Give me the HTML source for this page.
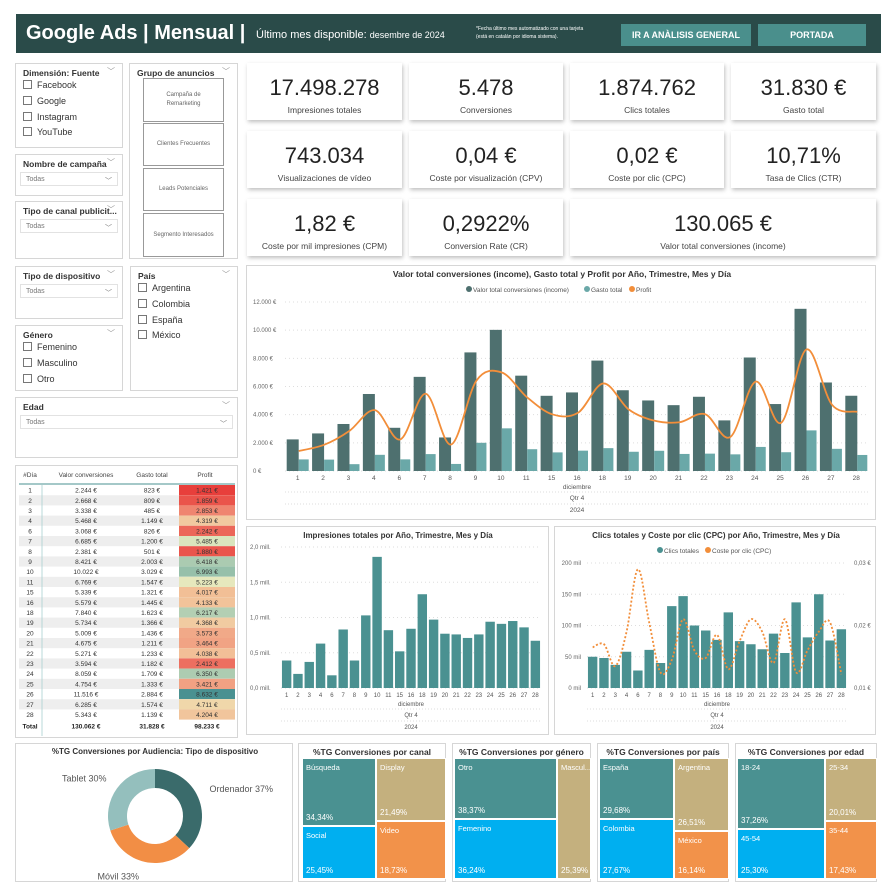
<!DOCTYPE html>
<html><head><meta charset="utf-8">
<style>
*{box-sizing:border-box;margin:0;padding:0}
body{width:891px;height:892px;background:#fff;font-family:"Liberation Sans",sans-serif;position:relative;overflow:hidden;color:#333}
.abs{position:absolute}
.box{position:absolute;border:1px solid #d6d6d6;background:#fff}
.card{position:absolute;background:#fff;box-shadow:1px 2px 4px rgba(0,0,0,.25);text-align:center}
.card .v{font-size:22px;color:#222;margin-top:12px;letter-spacing:0}
.card .l{font-size:8.5px;color:#444;margin-top:4px}
.st{font-size:8.5px;font-weight:bold;color:#333;position:absolute;left:7px;top:4px}
.chev{position:absolute;right:7px;top:2px;font-size:8px;color:#999}
.dd{position:absolute;border:1px solid #e2e2e2;font-size:7px;color:#777;padding:3px 5px;height:14px}
.cb{position:absolute;font-size:9px;color:#333;left:7px}
.cb i{display:inline-block;width:9px;height:9px;border:1px solid #777;vertical-align:-1px;margin-right:5px}
.gb{position:absolute;left:13px;width:81px;border:1px solid #999;font-size:6px;color:#666;text-align:center;display:flex;align-items:center;justify-content:center;line-height:9px}
.tm{position:absolute;color:#fff;font-size:7.5px;border:1px solid #fff}
.tm span{position:absolute;left:3px;top:4px;white-space:nowrap}
.tm b{position:absolute;left:3px;bottom:3px;font-weight:normal;font-size:8px}
.tt{position:absolute;top:3px;width:100%;text-align:center;font-size:8.5px;font-weight:bold;white-space:nowrap}
</style></head><body>
<div class="abs" style="left:16px;top:14px;width:865px;height:39px;background:#2a4b49">
  <div class="abs" style="left:10px;top:8px;font-size:20px;font-weight:bold;color:#fff;white-space:nowrap">Google Ads | Mensual |</div>
  <div class="abs" style="left:240px;top:15px;font-size:11px;color:#fff;white-space:nowrap">Último mes disponible: <span style="font-size:9px">desembre de 2024</span></div>
  <div class="abs" style="left:460px;top:11px;font-size:5px;color:#fff;line-height:8px">*Fecha último mes automatizado con una tarjeta<br>(está en catalán por idioma sistema).</div>
  <div class="abs" style="left:605px;top:10px;width:130px;height:22px;background:#4a8f8c;color:#fff;font-size:9px;font-weight:bold;text-align:center;line-height:22px;white-space:nowrap">IR A ANÀLISIS GENERAL</div>
  <div class="abs" style="left:742px;top:10px;width:108px;height:22px;background:#4a8f8c;color:#fff;font-size:9px;font-weight:bold;text-align:center;line-height:22px">PORTADA</div>
</div>

<div class="box" style="left:15px;top:63px;width:108px;height:85px"><div class="st">Dimensión: Fuente</div><div class="chev">﹀</div>
<div class="cb" style="top:16px"><i></i>Facebook</div><div class="cb" style="top:32px"><i></i>Google</div><div class="cb" style="top:48px"><i></i>Instagram</div><div class="cb" style="top:63px"><i></i>YouTube</div></div>
<div class="box" style="left:15px;top:154px;width:108px;height:42px"><div class="st">Nombre de campaña</div><div class="chev">﹀</div><div class="dd" style="left:4px;top:17px;width:98px">Todas<span style="float:right">﹀</span></div></div>
<div class="box" style="left:15px;top:201px;width:108px;height:58px"><div class="st">Tipo de canal publicit...</div><div class="chev">﹀</div><div class="dd" style="left:4px;top:17px;width:98px">Todas<span style="float:right">﹀</span></div></div>
<div class="box" style="left:129px;top:63px;width:109px;height:196px"><div class="st">Grupo de anuncios</div><div class="chev">﹀</div>
<div class="gb" style="top:14px;height:44px">Campaña de<br>Remarketing</div><div class="gb" style="top:59px;height:43px">Clientes Frecuentes</div><div class="gb" style="top:104px;height:43px">Leads Potenciales</div><div class="gb" style="top:149px;height:44px">Segmento Interesados</div></div>
<div class="box" style="left:15px;top:266px;width:108px;height:53px"><div class="st">Tipo de dispositivo</div><div class="chev">﹀</div><div class="dd" style="left:4px;top:17px;width:98px">Todas<span style="float:right">﹀</span></div></div>
<div class="box" style="left:130px;top:266px;width:108px;height:125px"><div class="st">País</div><div class="chev">﹀</div>
<div class="cb" style="top:16px"><i></i>Argentina</div><div class="cb" style="top:32px"><i></i>Colombia</div><div class="cb" style="top:48px"><i></i>España</div><div class="cb" style="top:63px"><i></i>México</div></div>
<div class="box" style="left:15px;top:325px;width:108px;height:66px"><div class="st">Género</div><div class="chev">﹀</div>
<div class="cb" style="top:16px"><i></i>Femenino</div><div class="cb" style="top:32px"><i></i>Masculino</div><div class="cb" style="top:48px"><i></i>Otro</div></div>
<div class="box" style="left:15px;top:397px;width:223px;height:61px"><div class="st">Edad</div><div class="chev">﹀</div><div class="dd" style="left:4px;top:17px;width:213px">Todas<span style="float:right">﹀</span></div></div>

<div class="card" style="left:247px;top:63px;width:155px;height:57px"><div class="v">17.498.278</div><div class="l">Impresiones totales</div></div>
<div class="card" style="left:409px;top:63px;width:154px;height:57px"><div class="v">5.478</div><div class="l">Conversiones</div></div>
<div class="card" style="left:570px;top:63px;width:154px;height:57px"><div class="v">1.874.762</div><div class="l">Clics totales</div></div>
<div class="card" style="left:731px;top:63px;width:145px;height:57px"><div class="v">31.830 €</div><div class="l">Gasto total</div></div>
<div class="card" style="left:247px;top:131px;width:155px;height:57px"><div class="v">743.034</div><div class="l">Visualizaciones de vídeo</div></div>
<div class="card" style="left:409px;top:131px;width:154px;height:57px"><div class="v">0,04 €</div><div class="l">Coste por visualización (CPV)</div></div>
<div class="card" style="left:570px;top:131px;width:154px;height:57px"><div class="v">0,02 €</div><div class="l">Coste por clic (CPC)</div></div>
<div class="card" style="left:731px;top:131px;width:145px;height:57px"><div class="v">10,71%</div><div class="l">Tasa de Clics (CTR)</div></div>
<div class="card" style="left:247px;top:199px;width:155px;height:57px"><div class="v">1,82 €</div><div class="l">Coste por mil impresiones (CPM)</div></div>
<div class="card" style="left:409px;top:199px;width:154px;height:57px"><div class="v">0,2922%</div><div class="l">Conversion Rate (CR)</div></div>
<div class="card" style="left:570px;top:199px;width:306px;height:57px"><div class="v">130.065 €</div><div class="l">Valor total conversiones (income)</div></div>

<div class="box" style="left:15px;top:465px;width:223px;height:273px"><svg id="tbl" width="223" height="273" style="position:absolute;left:0;top:0"></svg></div>

<div class="box" style="left:246px;top:265px;width:630px;height:255px"><svg id="main" width="630" height="255"></svg></div>
<div class="box" style="left:246px;top:526px;width:303px;height:209px"><svg id="imp" width="303" height="209"></svg></div>
<div class="box" style="left:554px;top:526px;width:322px;height:209px"><svg id="clk" width="322" height="209"></svg></div>

<div class="box" style="left:15px;top:743px;width:278px;height:139px"><svg id="donut" width="278" height="139"></svg></div>

<div class="box" style="left:298px;top:743px;width:148px;height:139px"><div class="tt">%TG Conversiones por canal</div>
<div class="tm" style="left:3px;top:14px;width:74px;height:68px;background:#4a9191"><span>Búsqueda</span><b>34,34%</b></div>
<div class="tm" style="left:77px;top:14px;width:70px;height:63px;background:#c4b07e"><span>Display</span><b>21,49%</b></div>
<div class="tm" style="left:3px;top:82px;width:74px;height:53px;background:#00aff0"><span>Social</span><b>25,45%</b></div>
<div class="tm" style="left:77px;top:77px;width:70px;height:58px;background:#f2924a"><span>Video</span><b>18,73%</b></div></div>
<div class="box" style="left:452px;top:743px;width:139px;height:139px"><div class="tt">%TG Conversiones por género</div>
<div class="tm" style="left:1px;top:14px;width:103px;height:61px;background:#4a9191"><span>Otro</span><b>38,37%</b></div>
<div class="tm" style="left:1px;top:75px;width:103px;height:60px;background:#00aff0"><span>Femenino</span><b>36,24%</b></div>
<div class="tm" style="left:104px;top:14px;width:34px;height:121px;background:#c4b07e;overflow:hidden"><span>Mascul...</span><b>25,39%</b></div></div>
<div class="box" style="left:597px;top:743px;width:132px;height:139px"><div class="tt">%TG Conversiones por país</div>
<div class="tm" style="left:1px;top:14px;width:75px;height:61px;background:#4a9191"><span>España</span><b>29,68%</b></div>
<div class="tm" style="left:76px;top:14px;width:55px;height:73px;background:#c4b07e"><span>Argentina</span><b>26,51%</b></div>
<div class="tm" style="left:1px;top:75px;width:75px;height:60px;background:#00aff0"><span>Colombia</span><b>27,67%</b></div>
<div class="tm" style="left:76px;top:87px;width:55px;height:48px;background:#f2924a"><span>México</span><b>16,14%</b></div></div>
<div class="box" style="left:735px;top:743px;width:142px;height:139px"><div class="tt">%TG Conversiones por edad</div>
<div class="tm" style="left:1px;top:14px;width:88px;height:71px;background:#4a9191"><span>18-24</span><b>37,26%</b></div>
<div class="tm" style="left:89px;top:14px;width:52px;height:63px;background:#c4b07e"><span>25-34</span><b>20,01%</b></div>
<div class="tm" style="left:1px;top:85px;width:88px;height:50px;background:#00aff0"><span>45-54</span><b>25,30%</b></div>
<div class="tm" style="left:89px;top:77px;width:52px;height:58px;background:#f2924a"><span>35-44</span><b>17,43%</b></div></div>

<script>
const days=[1,2,3,4,6,7,8,9,10,11,15,16,18,19,20,21,22,23,24,25,26,27,28];
const income=[2244,2668,3338,5468,3068,6685,2381,8421,10022,6769,5339,5579,7840,5734,5009,4675,5271,3594,8059,4754,11516,6285,5343];
const spend=[823,809,485,1149,826,1200,501,2003,3029,1547,1321,1445,1623,1366,1436,1211,1233,1182,1709,1333,2884,1574,1139];
const profit=[1421,1859,2853,4319,2242,5485,1880,6418,6993,5223,4017,4133,6217,4368,3573,3464,4038,2412,6350,3421,8632,4711,4204];
const impressions=[0.39,0.20,0.37,0.63,0.18,0.83,0.39,1.03,1.86,0.82,0.52,0.84,1.33,0.97,0.77,0.76,0.71,0.76,0.94,0.91,0.95,0.86,0.67];
const clicks=[50,48,37,58,28,61,40,131,147,100,92,77,121,75,70,62,87,56,137,81,150,76,94];
const cpc=[0.0165,0.0170,0.0135,0.0190,0.0290,0.0205,0.0125,0.0145,0.0210,0.0160,0.0148,0.0185,0.0130,0.0175,0.0210,0.0190,0.0140,0.0210,0.0125,0.0160,0.0190,0.0205,0.0122];
const mainTicks=["0 €","2.000 €","4.000 €","6.000 €","8.000 €","10.000 €","12.000 €"];
const impTicks=["0,0 mill.","0,5 mill.","1,0 mill.","1,5 mill.","2,0 mill."];
const clkTicks=["0 mil","50 mil","100 mil","150 mil","200 mil"];
const cpcTicks=["0,01 €","0,02 €","0,03 €"];
const devices=["Ordenador","Móvil","Tablet"];
const deviceShare=[37,33,30];

const NS="http://www.w3.org/2000/svg";
function mk(p,t,a,txt){const e=document.createElementNS(NS,t);for(const k in a)e.setAttribute(k,a[k]);if(txt!==undefined)e.textContent=txt;p.appendChild(e);return e;}
const fmt=n=>n.toLocaleString('de-DE')+' €';
function smooth(pts){let d='M'+pts[0][0]+','+pts[0][1];for(let i=0;i<pts.length-1;i++){const p0=pts[i-1]||pts[i],p1=pts[i],p2=pts[i+1],p3=pts[i+2]||p2;d+=' C'+(p1[0]+(p2[0]-p0[0])/6)+','+(p1[1]+(p2[1]-p0[1])/6)+' '+(p2[0]-(p3[0]-p1[0])/6)+','+(p2[1]-(p3[1]-p1[1])/6)+' '+p2[0]+','+p2[1];}return d;}
function xAxisLabels(s,xf,y0,x1,x2,fs){days.forEach((d,i)=>{const t=mk(s,'text',{x:xf(i),y:y0+9,'font-size':fs,'text-anchor':'middle',fill:'#555'},d);});
const cx=(x1+x2)/2;mk(s,'text',{x:cx,y:y0+18,'font-size':fs,'text-anchor':'middle',fill:'#555'},'diciembre');mk(s,'line',{x1:x1,x2:x2,y1:y0+21,y2:y0+21,stroke:'#ddd','stroke-dasharray':'1,2'});
mk(s,'text',{x:cx,y:y0+29,'font-size':fs,'text-anchor':'middle',fill:'#555'},'Qtr 4');mk(s,'line',{x1:x1,x2:x2,y1:y0+33,y2:y0+33,stroke:'#ddd','stroke-dasharray':'1,2'});
mk(s,'text',{x:cx,y:y0+41,'font-size':fs,'text-anchor':'middle',fill:'#555'},'2024');}

(function(){const s=document.getElementById('main');
mk(s,'text',{x:315,y:11,'font-size':8.5,'font-weight':'bold','text-anchor':'middle',fill:'#333'},'Valor total conversiones (income), Gasto total y Profit por Año, Trimestre, Mes y Día');
const lg=[["#4e706f","Valor total conversiones (income)",222],["#6aa8a8","Gasto total",340],["#f28e3a","Profit",385]];
lg.forEach(l=>{mk(s,'circle',{cx:l[2],cy:23,r:3,fill:l[0]});mk(s,'text',{x:l[2]+4,y:26,'font-size':6.5,fill:'#555'},l[1]);});
const y0=205,yT=36,maxV=12000,y=v=>y0-(v/maxV)*(y0-yT);
const x1=38,x2=622,bw=(x2-x1)/days.length,xc=i=>x1+bw*(i+0.5);
mainTicks.forEach((t,i)=>{const yy=y(i*2000);mk(s,'line',{x1:x1,x2:x2,y1:yy,y2:yy,stroke:'#ddd','stroke-dasharray':'1,3'});mk(s,'text',{x:6,y:yy+2,'font-size':6,fill:'#666'},t);});
days.forEach((d,i)=>{const a=mk(s,'rect',{x:xc(i)-11,y:y(income[i]),width:12,height:y0-y(income[i]),fill:'#4e706f'});
const b=mk(s,'rect',{x:xc(i)+1,y:y(spend[i]),width:10,height:y0-y(spend[i]),fill:'#6aa8a8'});});
const ln=mk(s,'path',{d:smooth(profit.map((v,i)=>[xc(i)+1,y(v)])),fill:'none',stroke:'#f28e3a','stroke-width':1.8});
xAxisLabels(s,xc,y0,x1,x2,6.5);})();

(function(){const s=document.getElementById('imp');
mk(s,'text',{x:151,y:11,'font-size':8,'font-weight':'bold','text-anchor':'middle',fill:'#333'},'Impresiones totales por Año, Trimestre, Mes y Día');
const y0=161,yT=20,y=v=>y0-(v/2)*(y0-yT),x1=34,x2=294,bw=(x2-x1)/days.length,xc=i=>x1+bw*(i+0.5);
impTicks.forEach((t,i)=>{const yy=y(i*0.5);mk(s,'line',{x1:x1,x2:x2,y1:yy,y2:yy,stroke:'#ddd','stroke-dasharray':'1,3'});mk(s,'text',{x:3,y:yy+2,'font-size':6,fill:'#666'},t);});
days.forEach((d,i)=>{const r=mk(s,'rect',{x:xc(i)-4.7,y:y(impressions[i]),width:9.4,height:y0-y(impressions[i]),fill:'#4a9191'});});
xAxisLabels(s,xc,y0,x1,x2,6);})();

(function(){const s=document.getElementById('clk');
mk(s,'text',{x:161,y:11,'font-size':8,'font-weight':'bold','text-anchor':'middle',fill:'#333'},'Clics totales y Coste por clic (CPC) por Año, Trimestre, Mes y Día');
mk(s,'circle',{cx:105,cy:23,r:3,fill:'#4a9191'});mk(s,'text',{x:109,y:26,'font-size':6.5,fill:'#555'},'Clics totales');
mk(s,'circle',{cx:153,cy:23,r:3,fill:'#f28e3a'});mk(s,'text',{x:157,y:26,'font-size':6.5,fill:'#555'},'Coste por clic (CPC)');
const y0=161,yT=36,y=v=>y0-(v/200)*(y0-yT),y2=v=>y0-((v-0.01)/0.02)*(y0-yT),x1=32,x2=292,bw=(x2-x1)/days.length,xc=i=>x1+bw*(i+0.5);
clkTicks.forEach((t,i)=>{const yy=y(i*50);mk(s,'line',{x1:x1,x2:x2,y1:yy,y2:yy,stroke:'#ddd','stroke-dasharray':'1,3'});mk(s,'text',{x:26,y:yy+2,'font-size':6,fill:'#666','text-anchor':'end'},t);});
cpcTicks.forEach((t,i)=>{mk(s,'text',{x:299,y:y2(0.01+i*0.01)+2,'font-size':6,fill:'#666'},t);});
days.forEach((d,i)=>{const r=mk(s,'rect',{x:xc(i)-4.7,y:y(clicks[i]),width:9.4,height:y0-y(clicks[i]),fill:'#4a9191'});});
const ln=mk(s,'path',{d:smooth(cpc.map((v,i)=>[xc(i),y2(v)])),fill:'none',stroke:'#f28e3a','stroke-width':1.8,'stroke-dasharray':'2,2'});
xAxisLabels(s,xc,y0,x1,x2,6);})();

(function(){const s=document.getElementById('donut');
mk(s,'text',{x:139,y:10,'font-size':8,'font-weight':'bold','text-anchor':'middle',fill:'#333'},'%TG Conversiones por Audiencia: Tipo de dispositivo');
const cx=139,cy=72,R=47,r=28,cols=['#3a6b6b','#f28e45','#94bfbd'];let a0=-Math.PI/2;const tot=deviceShare.reduce((a,b)=>a+b,0);
deviceShare.forEach((v,i)=>{const a1=a0+v/tot*2*Math.PI,lg=(a1-a0)>Math.PI?1:0;
const P=(rr,a)=>[cx+rr*Math.cos(a),cy+rr*Math.sin(a)];const [ax,ay]=P(R,a0),[bx,by]=P(R,a1),[cx2,cy2]=P(r,a1),[dx,dy]=P(r,a0);
const p=mk(s,'path',{d:`M${ax},${ay} A${R},${R} 0 ${lg} 1 ${bx},${by} L${cx2},${cy2} A${r},${r} 0 ${lg} 0 ${dx},${dy}Z`,fill:cols[i]});
const am=(a0+a1)/2,[lx,ly]=P(R+8,am);const right=Math.cos(am)>0;
mk(s,'text',{x:lx+(right?4:-4),y:ly+(Math.sin(am)>0.5?10:-2),'font-size':9,fill:'#555','text-anchor':right?'start':'end'},devices[i]+' '+v+'%');a0=a1;});})();

(function(){const s=document.getElementById('tbl');
const hx=[[14,'#Día'],[70,'Valor conversiones'],[136,'Gasto total'],[189,'Profit']];
hx.forEach(h=>mk(s,'text',{x:h[0],y:11,'font-size':6.5,fill:'#444','text-anchor':'middle'},h[1]));
mk(s,'line',{x1:3,x2:219,y1:18,y2:18,stroke:'#4a9191','stroke-width':1});
const stops=[[1400,[232,62,58]],[2800,[239,130,110]],[4000,[242,190,150]],[4700,[240,215,170]],[5300,[228,234,192]],[6300,[175,205,178]],[7000,[150,192,170]],[8632,[74,145,145]]];
function col(v){for(let i=0;i<stops.length-1;i++){const a=stops[i],b=stops[i+1];if(v<=b[0]){const t=Math.max(0,(v-a[0])/(b[0]-a[0]));return 'rgb('+a[1].map((c,k)=>Math.round(c+(b[1][k]-c)*t)).join(',')+')';}}return 'rgb(74,145,145)';}
const rh=10.2,y0=19;
days.forEach((d,i)=>{const yy=y0+i*rh;if(i%2==1)mk(s,'rect',{x:3,y:yy,width:216,height:rh,fill:'#eeeeee'});
const c=mk(s,'rect',{x:163,y:yy,width:56,height:rh,fill:col(profit[i])});
mk(s,'text',{x:14,y:yy+7.6,'font-size':6.5,fill:'#333','text-anchor':'middle'},d);
mk(s,'text',{x:70,y:yy+7.6,'font-size':6.5,fill:'#333','text-anchor':'middle'},fmt(income[i]));
mk(s,'text',{x:136,y:yy+7.6,'font-size':6.5,fill:'#333','text-anchor':'middle'},fmt(spend[i]));
mk(s,'text',{x:191,y:yy+7.6,'font-size':6.5,fill:'#333','text-anchor':'middle'},fmt(profit[i]));});
mk(s,'line',{x1:26,x2:26,y1:19,y2:270,stroke:'#a8cfcf','stroke-width':0.8});
const ty=y0+days.length*rh+9;
mk(s,'text',{x:14,y:ty,'font-size':6.5,'font-weight':'bold',fill:'#222','text-anchor':'middle'},'Total');
mk(s,'text',{x:70,y:ty,'font-size':6.5,'font-weight':'bold',fill:'#222','text-anchor':'middle'},fmt(income.reduce((a,b)=>a+b,0)));
mk(s,'text',{x:136,y:ty,'font-size':6.5,'font-weight':'bold',fill:'#222','text-anchor':'middle'},fmt(spend.reduce((a,b)=>a+b,0)));
mk(s,'text',{x:191,y:ty,'font-size':6.5,'font-weight':'bold',fill:'#222','text-anchor':'middle'},fmt(profit.reduce((a,b)=>a+b,0)));})();
</script>
</body></html>
